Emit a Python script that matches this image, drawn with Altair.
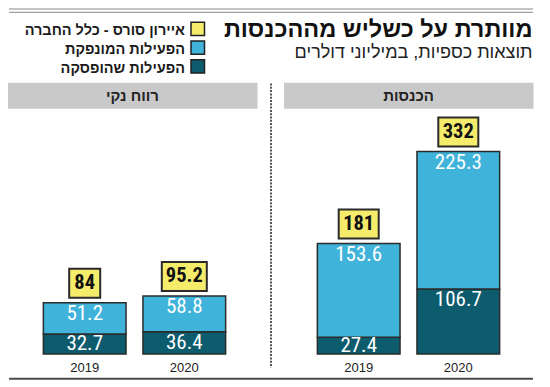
import altair as alt
import pandas as pd

# ---------------- data ----------------
years = ["2019", "2020"]
rev_continuing = [153.6, 225.3]
rev_discontinued = [27.4, 106.7]
rev_total = [181, 332]
net_continuing = [51.2, 58.8]
net_discontinued = [32.7, 36.4]
net_total = [84, 95.2]

series_names = ["איירון סורס - כלל החברה", "הפעילות המונפקת", "הפעילות שהופסקה"]
series_colors = ["#f6ec6c", "#3fb3d9", "#0d5c6e"]
panel_titles = ["רווח נקי", "הכנסות"]
title_text = "מוותרת על כשליש מההכנסות"
subtitle_text = "תוצאות כספיות, במיליוני דולרים"

# ---------------- layout constants ----------------
Y_MAX = 400
PLOT_H = 244
PLOT_W = 249
PX = PLOT_H / Y_MAX
HEB_FONT = "Liberation Sans"
NUM_FONT = "Roboto Condensed, Liberation Sans Narrow, DejaVu Sans Condensed, Liberation Sans"
EDGE = "#2b2b2b"


def seg_frame(disc, cont):
    rows = []
    for y, d, c in zip(years, disc, cont):
        rows.append(dict(year=y, series=series_names[2], start=0.0, end=d, label=f"{d:.1f}"))
        rows.append(dict(year=y, series=series_names[1], start=d, end=d + c, label=f"{c:.1f}"))
    df = pd.DataFrame(rows)
    df["label_y"] = [max(e - 11.5 / PX, (s + e) / 2) for s, e in zip(df.start, df.end)]
    return df


def total_frame(total):
    return pd.DataFrame({"year": years, "total": total, "label": [f"{v:g}" for v in total]})


def one(t):
    return pd.DataFrame({"t": [t]})


def panel(header, disc, cont, total, align, extras):
    x = alt.X(
        "year:N",
        sort=years,
        scale=alt.Scale(paddingInner=0.17, paddingOuter=0.335, align=align),
        axis=alt.Axis(
            title=None, domain=False, ticks=False, labelAngle=0,
            labelFont=HEB_FONT, labelFontSize=13, labelColor="#222",
            labelPadding=7,
        ),
    )
    yscale = alt.Scale(domain=[0, Y_MAX], nice=False, zero=True)
    color = alt.Color("series:N", scale=alt.Scale(domain=series_names, range=series_colors), legend=None)

    sdf = seg_frame(disc, cont)
    tdf = total_frame(total)

    head_rect = alt.Chart(one(header)).mark_rect(color="#c9c9c9").encode(
        x=alt.value(0), x2=alt.value(PLOT_W + 0.5), y=alt.value(-27.2), y2=alt.value(-1.2)
    )
    head_text = alt.Chart(one(header)).mark_text(
        font=HEB_FONT, fontSize=15, fontWeight="bold", color="#222", baseline="middle"
    ).encode(x=alt.value(PLOT_W / 2), y=alt.value(-14), text="t:N")

    bars = alt.Chart(sdf).mark_bar(stroke=EDGE, strokeWidth=1.5).encode(
        x=x, y=alt.Y("start:Q", scale=yscale, axis=None), y2="end:Q", color=color
    )
    seg_labels = alt.Chart(sdf).mark_text(
        font=NUM_FONT, fontSize=21, color="white", baseline="middle"
    ).encode(x=x, y=alt.Y("label_y:Q", scale=yscale, axis=None), text="label:N")

    boxes = []
    for n, w in [(2, 31), (3, 40), (4, 45)]:
        boxes.append(
            alt.Chart(tdf).transform_filter(f"length(datum.label) == {n}").mark_bar(
                width=w, fill=series_colors[0], stroke=EDGE, strokeWidth=2,
                yOffset=-34, y2Offset=-5,
            ).encode(x=x, y=alt.Y("total:Q", scale=yscale, axis=None), y2="total:Q")
        )
    totals = alt.Chart(tdf).mark_text(
        font=NUM_FONT, fontSize=20.5, fontWeight="bold", color="#111", baseline="middle", dy=-19.5
    ).encode(x=x, y=alt.Y("total:Q", scale=yscale, axis=None), text="label:N")

    layers = [head_rect, head_text, bars, seg_labels] + boxes + [totals] + extras
    return alt.layer(*layers).properties(width=PLOT_W, height=PLOT_H)


# ---------------- decorations ----------------
left_extras = [
    alt.Chart(one("r")).mark_rule(color="#888", strokeWidth=1).encode(
        x=alt.value(1), x2=alt.value(525), y=alt.value(-101)),
    alt.Chart(one("r")).mark_rule(color="#888", strokeWidth=1).encode(
        x=alt.value(1), x2=alt.value(525), y=alt.value(-97.7)),
    alt.Chart(one("r")).mark_rule(color="#4a4a4a", strokeWidth=2).encode(
        x=alt.value(1), x2=alt.value(525), y=alt.value(268.8)),
    alt.Chart(one("r")).mark_rule(color="#555", strokeWidth=2, strokeDash=[2, 1.3]).encode(
        x=alt.value(263), y=alt.value(-26.5), y2=alt.value(257.5)),
]
for i, (name, col) in enumerate(zip(series_names, series_colors)):
    top = -87.8 + i * 18.8
    left_extras.append(
        alt.Chart(one(name)).mark_rect(fill=col, stroke="#222", strokeWidth=1.5).encode(
            x=alt.value(183), x2=alt.value(196.5), y=alt.value(top), y2=alt.value(top + 13.3))
    )
    left_extras.append(
        alt.Chart(one(name)).mark_text(
            font=HEB_FONT, fontSize=14.5, fontWeight="bold", color="#1a1a1a",
            align="right", baseline="alphabetic",
        ).encode(x=alt.value(177), y=alt.value(top + 12.8), text="t:N")
    )

right_extras = [
    alt.Chart(one(title_text)).mark_text(
        font=HEB_FONT, fontSize=23.5, fontWeight="bold", color="#111",
        align="right", baseline="alphabetic",
    ).encode(x=alt.value(248.5), y=alt.value(-72.8), text="t:N"),
    alt.Chart(one(subtitle_text)).mark_text(
        font=HEB_FONT, fontSize=18, color="#222", align="right", baseline="alphabetic",
    ).encode(x=alt.value(248.5), y=alt.value(-52.3), text="t:N"),
]

left = panel(panel_titles[0], net_discontinued, net_continuing, net_total, 0.53, left_extras)
right = panel(panel_titles[1], rev_discontinued, rev_continuing, rev_total, 0.5, right_extras)

chart = alt.hconcat(left, right, spacing=27, bounds="flush").properties(
    padding={"left": 0, "top": 0, "right": 4, "bottom": 2}
).configure_view(stroke=None)

chart.save("out.html", embed_options={"renderer": "svg", "actions": False})
